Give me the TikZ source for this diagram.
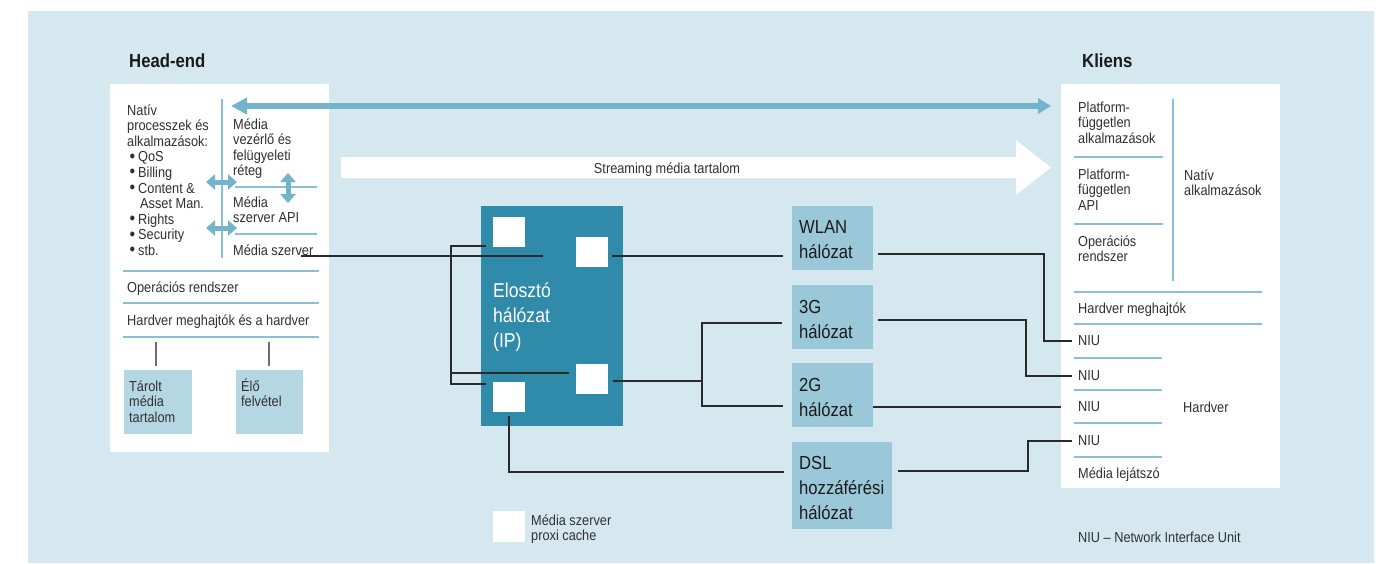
\documentclass[tikz,border=0pt]{standalone}
\usepackage{fontspec}
\setmainfont{Liberation Sans}[FakeStretch=0.88]
\usetikzlibrary{arrows.meta,calc}

\definecolor{bgblue}{HTML}{D5E7EF}
\definecolor{ipteal}{HTML}{308BAA}
\definecolor{netfill}{HTML}{9BC8D9}
\definecolor{storefill}{HTML}{B5D7E3}
\definecolor{flowblue}{HTML}{73B3CB}
\definecolor{rulerblue}{HTML}{8AC0D5}
\definecolor{inkgrey}{HTML}{303030}
\definecolor{titleink}{HTML}{1A1A1A}
\definecolor{wireink}{HTML}{2A2A2A}
\definecolor{stubink}{HTML}{6E6E6E}

\newcommand\bodyfont{\fontsize{14.5pt}{15.6pt}\selectfont}
\newcommand\netfont{\fontsize{18.9pt}{25pt}\selectfont}
\newcommand\ipfont{\fontsize{20pt}{25pt}\selectfont}
\newcommand\titlefont{\fontsize{19pt}{22pt}\selectfont\bfseries}
% stacked lines; the node's baseline is the baseline of the first line
\newcommand\lines[1]{\vtop{\let\\\cr\halign{##\hfil\cr#1\crcr}}}
\newcommand\bul{\makebox[11pt][l]{\hspace{2.5pt}\raisebox{-0.4pt}{\scalebox{1.25}{•}}}}

\begin{document}
\begin{tikzpicture}[x=1pt,y=-1pt,
  block/.style={anchor=north west, inner sep=0pt, outer sep=0pt, draw=none},
  whitepanel/.style={block, fill=white},
  storebox/.style={block, fill=storefill, minimum width=68pt, minimum height=64pt},
  netbox/.style={block, fill=netfill, minimum width=81pt, minimum height=64pt},
  cachebox/.style={block, fill=white, minimum width=32pt, minimum height=30pt},
  lbl/.style={anchor=base west, inner sep=0pt, text=inkgrey, font=\bodyfont},
  netlbl/.style={lbl, font=\netfont, text=titleink},
  titlelbl/.style={lbl, font=\titlefont, text=titleink},
  niulbl/.style={lbl, anchor=west, inner xsep=6pt},
  sepline/.style={draw=rulerblue, line width=1.4pt},
  wireline/.style={draw=wireink, line width=1.2pt},
  stubline/.style={draw=stubink, line width=1.5pt},
  flowarrow/.style={draw=flowblue, line width=5pt,
    {Triangle[length=9pt,width=15pt]}-{Triangle[length=9pt,width=15pt]}},
  ctlarrow/.style={draw=flowblue, line width=5.5pt,
    {Triangle[length=16pt,width=16pt]}-{Triangle[length=13pt,width=15pt]}}
]
\useasboundingbox (0,0) rectangle (1385,563);
\fill[bgblue] (28,11) rectangle (1374,563);

% ---------- head-end ----------
\node[titlelbl] (headtitle) at (129,67) {Head-end};
\node[whitepanel, minimum width=219pt, minimum height=368pt] (head) at (110,84) {};

\draw[sepline] (222,99) -- (222,258);
\draw[sepline] (235,187) -- (317,187);
\draw[sepline] (235,234) -- (317,234);
\draw[sepline] (123,271) -- (319,271);
\draw[sepline] (123,303) -- (319,303);
\draw[sepline] (123,337) -- (319,337);

\node[lbl] (native) at (127,115) {\lines{Natív\\processzek és\\alkalmazások:\\\bul QoS\\\bul Billing\\\bul Content \&\\\hspace{13pt}Asset Man.\\\bul Rights\\\bul Security\\\bul stb.}};
\node[lbl] (ctl) at (233,129) {\lines{Média\\vezérlő és\\felügyeleti\\réteg}};
\node[lbl] (api) at (233,207) {\lines{Média\\szerver API}};
\node[lbl] (msz) at (233,255) {Média szerver};
\node[lbl] (hos) at (127,292) {Operációs rendszer};
\node[lbl] (hhw) at (127,325) {Hardver meghajtók és a hardver};

\node[storebox] (tarolt) at (124,370) {};
\node[storebox, minimum width=67pt] (elo) at (236,370) {};
\node[lbl] (taroltlbl) at (129,391) {\lines{Tárolt\\média\\tartalom}};
\node[lbl] (elolbl) at (241,391) {\lines{Élő\\felvétel}};
\draw[stubline] ($(tarolt.north)+(-2,-28)$) -- ($(tarolt.north)+(-2,-4)$);
\draw[stubline] ($(elo.north)+(-0.5,-28)$) -- ($(elo.north)+(-0.5,-4)$);

\draw[flowarrow] (206,182) -- (237,182);
\draw[flowarrow] (206,228) -- (237,228);
\draw[flowarrow] (288,173) -- (288,203);

% ---------- client ----------
\node[titlelbl] (klititle) at (1082,67) {Kliens};
\node[whitepanel, minimum width=219pt, minimum height=404pt] (kli) at (1061,84) {};

\draw[sepline] (1173,99) -- (1173,281);
\draw[sepline] (1074,157) -- (1163,157);
\draw[sepline] (1074,224) -- (1163,224);
\draw[sepline] (1074,292) -- (1262,292);
\draw[sepline] (1074,324) -- (1262,324);
\draw[sepline] (1074,358) -- (1162,358);
\draw[sepline] (1074,390) -- (1162,390);
\draw[sepline] (1074,423) -- (1162,423);
\draw[sepline] (1074,457) -- (1162,457);

\node[lbl] (pfapp) at (1078,112) {\lines{Platform-\\független\\alkalmazások}};
\node[lbl] (pfapi) at (1078,179) {\lines{Platform-\\független\\API}};
\node[lbl] (kos) at (1078,246) {\lines{Operációs\\rendszer}};
\node[lbl] (knat) at (1184,180) {\lines{Natív\\alkalmazások}};
\node[lbl] (kdrv) at (1078,313) {Hardver meghajtók};
\node[niulbl] (niu1) at (1072,341) {NIU};
\node[niulbl] (niu2) at (1072,376) {NIU};
\node[niulbl] (niu3) at (1072,407) {NIU};
\node[niulbl] (niu4) at (1072,441) {NIU};
\node[lbl] (player) at (1078,478) {Média lejátszó};
\node[lbl] (khw) at (1183,412) {Hardver};
\node[lbl] (niunote) at (1078,542) {NIU – Network Interface Unit};

% ---------- control and streaming flows ----------
\draw[ctlarrow] (231,106) -- (1051,106);
\fill[white] (341,157) -- (1016,157) -- (1016,140) -- (1051,167.5)
  -- (1016,195) -- (1016,178) -- (341,178) -- cycle;
\node[lbl, anchor=base] (stream) at (667,173) {Streaming média tartalom};

% ---------- distribution network ----------
\node[block, fill=ipteal, minimum width=142pt, minimum height=220pt] (ip) at (481,206) {};
\node[cachebox] (sqtl) at (493,217) {};
\node[cachebox] (sqtr) at (576,237) {};
\node[cachebox] (sqbr) at (576,364) {};
\node[cachebox] (sqbl) at (493,382) {};
\node[lbl, font=\ipfont, text=white] (iplbl) at (493,297) {\lines{Elosztó\\hálózat\\(IP)}};

\node[netbox] (wlan) at (792,206) {};
\node[netbox] (g3) at (792,285) {};
\node[netbox] (g2) at (792,363) {};
\node[netbox, minimum width=100pt, minimum height=87pt] (dsl) at (792,442) {};
\node[netlbl] (wlanlbl) at (799,233) {\lines{WLAN\\hálózat}};
\node[netlbl] (g3lbl) at (799,313) {\lines{3G\\hálózat}};
\node[netlbl] (g2lbl) at (799,391) {\lines{2G\\hálózat}};
\node[netlbl] (dsllbl) at (799,469) {\lines{DSL\\hozzáférési\\hálózat}};

% ---------- wiring ----------
\draw[wireline] ($(msz.base east)+(-13,1)$) -- ($(sqtr.west)+(-33,4)$);
\draw[wireline] ($(sqtl.south west)+(-7,-1)$) -- ++(-35,0) |- ($(sqbl.north west)+(-7,2)$);
\draw[wireline] ($(sqbl.north west)+(-42,-9)$) -- ($(sqbr.west)+(-7,-6)$);
\draw[wireline] ($(sqtr.east)+(4,4)$) -- ($(wlan.west)+(-9,18)$);
\draw[wireline] ($(sqbr.east)+(5,2)$) -- ++(89,0);
\draw[wireline] ($(g3.west)+(-10,6)$) -| ($(g2.west)+(-90,11)$) -- ($(g2.west)+(-9,11)$);
\draw[wireline] ($(sqbl.south)+(0,4)$) |- ($(dsl.west)+(-8,-13.5)$);

\draw[wireline] ($(wlan.east)+(5,16)$) -- ++(166,0) |- (niu1.west);
\draw[wireline] ($(g3.east)+(5,3)$) -- ++(148,0) |- (niu2.west);
\draw[wireline] ($(g2.east)+(0,12)$) -- ($(niu3.west)+(-11,0)$);
\draw[wireline] ($(dsl.east)+(6,-14.5)$) -- ++(130,0) |- (niu4.west);

% ---------- legend ----------
\node[cachebox, minimum height=31pt] (legendsq) at (493,511) {};
\node[lbl] (legendlbl) at (531,525) {\lines{Média szerver\\proxi cache}};
\end{tikzpicture}
\end{document}
